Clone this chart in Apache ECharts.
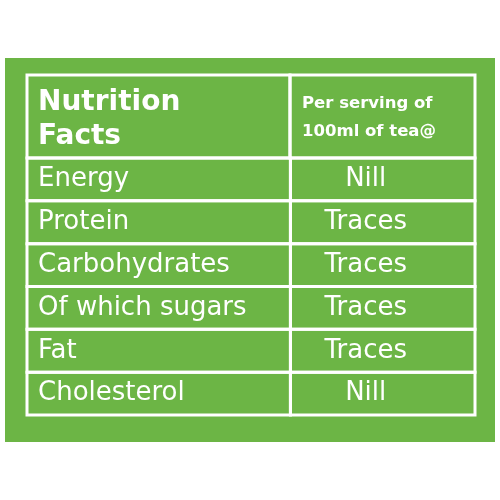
<!DOCTYPE html>
<html lang="en">
<head>
<meta charset="UTF-8">
<title>Nutrition Facts</title>
<script src="https://cdn.jsdelivr.net/npm/echarts@6/dist/echarts.min.js"></script>
<style>html,body{margin:0;background:#fff}</style>
</head>
<body>
<div id="main" style="width:500px;height:500px;"></div>
<script>
  const nutrients = ['Energy', 'Protein', 'Carbohydrates', 'Of which sugars', 'Fat', 'Cholesterol']
  const amounts = ['Nill', 'Traces', 'Traces', 'Traces', 'Traces', 'Nill']
  const headerLeft = 'Nutrition\nFacts'
  const headerRight = 'Per serving of\n100ml of tea@'

  const green = '#6cb545'
  const font = '"DejaVu Sans", sans-serif'
  const split = 0.588

  const chart = echarts.init(document.getElementById('main'))
  chart.setOption({
    animation: false,
    backgroundColor: '#fff',
    graphic: [
      { type: 'rect', z: -10, shape: { x: 5, y: 58, width: 490, height: 384 }, style: { fill: green } },
      { type: 'rect', shape: { x: 27, y: 75, width: 263, height: 83 }, style: { fill: 'none', stroke: '#fff', lineWidth: 3 } },
      { type: 'rect', shape: { x: 290, y: 75, width: 185, height: 83 }, style: { fill: 'none', stroke: '#fff', lineWidth: 3 } },
      { type: 'text', x: 38, y: 86, style: { text: headerLeft, fill: '#fff', font: 'bold 28px ' + font, lineHeight: 34 } },
      { type: 'text', x: 302, y: 90, style: { text: headerRight, fill: '#fff', font: 'bold 16.5px ' + font, lineHeight: 28 } }
    ],
    grid: { left: 27, right: 25, top: 158, bottom: 85 },
    xAxis: { type: 'value', min: 0, max: 1, show: false },
    yAxis: { type: 'category', data: nutrients, inverse: true, show: false },
    series: [{
      type: 'custom',
      data: nutrients.map((n, i) => [0, i]),
      renderItem: function (params, api) {
        const i = api.value(1)
        const c = api.coord([0, i])
        const h = api.size([0, 1])[1]
        const x0 = api.coord([0, i])[0]
        const xs = api.coord([split, i])[0]
        const x1 = api.coord([1, i])[0]
        const top = c[1] - h / 2
        return {
          type: 'group',
          children: [
            { type: 'rect', shape: { x: x0, y: top, width: xs - x0, height: h }, style: { fill: 'none', stroke: '#fff', lineWidth: 3 } },
            { type: 'rect', shape: { x: xs, y: top, width: x1 - xs, height: h }, style: { fill: 'none', stroke: '#fff', lineWidth: 3 } },
            { type: 'text', x: x0 + 11, y: c[1], style: { text: nutrients[i], fill: '#fff', font: '26px ' + font, verticalAlign: 'middle' } },
            { type: 'text', x: (xs + x1) / 2 - 17, y: c[1], style: { text: amounts[i], fill: '#fff', font: '26px ' + font, verticalAlign: 'middle', align: 'center' } }
          ]
        }
      }
    }]
  })
</script>
</body>
</html>
